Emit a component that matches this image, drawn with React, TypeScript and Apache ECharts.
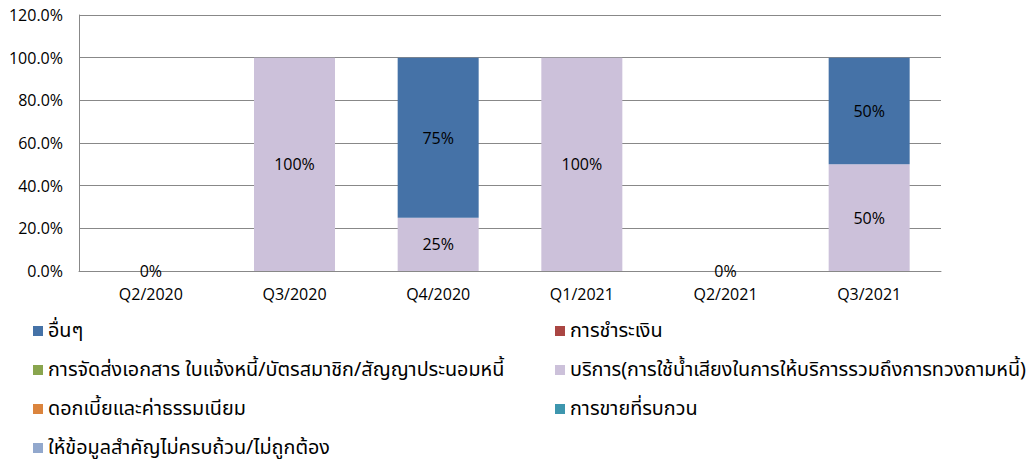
import React, { useEffect, useRef } from "react";
import * as echarts from "echarts";

const categories = ["Q2/2020", "Q3/2020", "Q4/2020", "Q1/2021", "Q2/2021", "Q3/2021"];

const seriesNames = [
  "บริการ(การใช้น้ำเสียงในการให้บริการรวมถึงการทวงถามหนี้)",
  "การชำระเงิน",
  "การจัดส่งเอกสาร ใบแจ้งหนี้/บัตรสมาชิก/สัญญาประนอมหนี้",
  "ดอกเบี้ยและค่าธรรมเนียม",
  "การขายที่รบกวน",
  "ให้ข้อมูลสำคัญไม่ครบถ้วน/ไม่ถูกต้อง",
  "อื่นๆ",
];

const serviceValues = [0, 1, 0.25, 1, 0, 0.5];
const paymentValues = [0, 0, 0, 0, 0, 0];
const deliveryValues = [0, 0, 0, 0, 0, 0];
const interestValues = [0, 0, 0, 0, 0, 0];
const salesValues = [0, 0, 0, 0, 0, 0];
const infoValues = [0, 0, 0, 0, 0, 0];
const otherValues = [0, 0, 0.75, 0, 0, 0.5];

const seriesColors = ["#CCC1DA", "#AA4643", "#89A54E", "#DB843D", "#3D96AE", "#92A8CD", "#4572A7"];

const leftLegend = [seriesNames[6], seriesNames[2], seriesNames[3], seriesNames[5]];
const rightLegend = [seriesNames[1], seriesNames[0], seriesNames[4]];

const FONT = 'Tahoma, "Noto Sans Thai", "DejaVu Sans", sans-serif';
const NUMFONT = '"Open Sans", "Noto Sans", sans-serif';

export default function App() {
  const ref = useRef<HTMLDivElement>(null);
  useEffect(() => {
    if (!ref.current) return;
    const chart = echarts.init(ref.current, null, { renderer: "svg" });
    const values = [serviceValues, paymentValues, deliveryValues, interestValues, salesValues, infoValues, otherValues];
    const series = values.map((vals, i) => ({
      name: seriesNames[i],
      type: "bar",
      stack: "total",
      barWidth: 81,
      data: vals,
      itemStyle: { color: seriesColors[i] },
      label: {
        show: i === 0 || i === 6,
        position: "inside",
        color: "#000",
        fontFamily: NUMFONT,
        fontSize: 16,
        formatter: (p: any) => {
          if (i !== 0 && !p.value) return "";
          return Math.round(p.value * 100) + "%";
        },
      },
    }));
    const legendCommon = {
      orient: "vertical",
      top: 321,
      height: 200,
      padding: 0,
      itemWidth: 10,
      itemHeight: 10,
      itemGap: 19,
      icon: "rect",
      textStyle: { fontFamily: FONT, fontSize: 19.8, color: "#000", lineHeight: 20 },
    };
    chart.setOption({
      animation: false,
      backgroundColor: "#fff",
      grid: { left: 79, right: 91, top: 15, bottom: 188 },
      legend: [
        { ...legendCommon, left: 33, data: leftLegend },
        { ...legendCommon, left: 555, data: rightLegend },
      ],
      xAxis: {
        type: "category",
        data: categories,
        axisTick: { show: false },
        axisLine: { lineStyle: { color: "#888", width: 1 } },
        axisLabel: { fontFamily: NUMFONT, fontSize: 16, color: "#000", margin: 15 },
      },
      yAxis: {
        type: "value",
        min: 0,
        max: 1.2,
        interval: 0.2,
        axisLine: { show: true, lineStyle: { color: "#888" } },
        axisTick: { show: false },
        splitLine: { lineStyle: { color: "#888" } },
        axisLabel: {
          fontFamily: NUMFONT,
          fontSize: 16,
          color: "#000",
          margin: 16,
          formatter: (v: number) => (v * 100).toFixed(1) + "%",
        },
      },
      series,
    });
    return () => chart.dispose();
  }, []);
  return <div ref={ref} style={{ position: "fixed", left: 0, top: 0, width: 1032, height: 459 }} />;
}
